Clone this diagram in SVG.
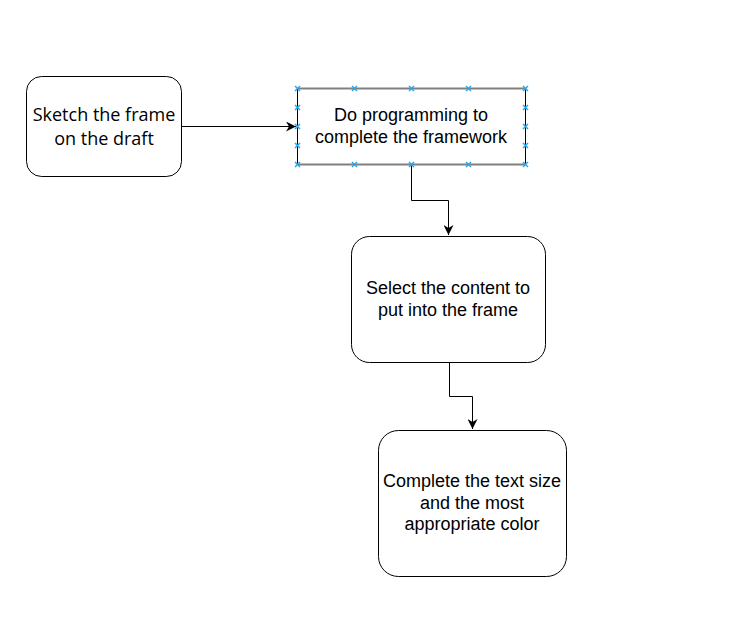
<svg xmlns="http://www.w3.org/2000/svg" width="740" height="625" viewBox="0 0 740 625">
<style>
.box{fill:#fff;stroke:#000;stroke-width:1}
.t{font-family:"Liberation Sans",Arial,sans-serif;font-size:18px;fill:#000;text-anchor:middle}
.t1{font-family:"Open Sans","Noto Sans",sans-serif;font-size:18px;fill:#000;text-anchor:middle}
.c{fill:none;stroke:#000;stroke-width:1}
.h{stroke:#29a8e8;stroke-width:1.5;fill:none}
</style>
<defs>
<marker id="a" viewBox="0 0 10 10" refX="10" refY="5" markerWidth="10" markerHeight="10" markerUnits="userSpaceOnUse" orient="auto"><path d="M0,0 L10,5 L0,10 L3,5 Z" fill="#000"/></marker>
<g id="x"><path d="M-2.5,-2.5 L2.5,2.5 M-2.5,2.5 L2.5,-2.5" class="h"/></g>
</defs>
<rect width="740" height="625" fill="#fff"/>
<g id="connectors">
<path class="c" d="M181,126.5 H296" marker-end="url(#a)"/>
<path class="c" d="M411.5,165 V200.5 H448.5 V235" marker-end="url(#a)"/>
<path class="c" d="M449.5,362 V396.5 H472.5 V429" marker-end="url(#a)"/>
</g>
<g id="n1">
<rect class="box" x="26.5" y="76.5" width="155" height="100" rx="15"/>
<text class="t1" x="104" y="121">Sketch the frame</text>
<text class="t1" x="104" y="144.5">on the draft</text>
</g>
<g id="n2">
<rect x="297.5" y="88.5" width="228" height="76" fill="#fff" stroke="none"/>
<path d="M297.5,88.5 V164.5 M525.5,88.5 V164.5" stroke="#000"/>
<path d="M297.5,88.5 H525.5 M297.5,164.5 H525.5" stroke="#808080" stroke-width="2"/>
<text class="t" x="411" y="121">Do programming to</text>
<text class="t" x="411" y="143">complete the framework</text>
<use href="#x" x="297.5" y="88.5"/><use href="#x" x="354.5" y="88.5"/><use href="#x" x="411.5" y="88.5"/><use href="#x" x="468.5" y="88.5"/><use href="#x" x="525.5" y="88.5"/>
<use href="#x" x="297.5" y="164.5"/><use href="#x" x="354.5" y="164.5"/><use href="#x" x="411.5" y="164.5"/><use href="#x" x="468.5" y="164.5"/><use href="#x" x="525.5" y="164.5"/>
<use href="#x" x="297.5" y="107.5"/><use href="#x" x="297.5" y="126.5"/><use href="#x" x="297.5" y="145.5"/>
<use href="#x" x="525.5" y="107.5"/><use href="#x" x="525.5" y="126.5"/><use href="#x" x="525.5" y="145.5"/>
</g>
<g id="n3">
<rect class="box" x="351.5" y="236.5" width="194" height="126" rx="18"/>
<text class="t" x="448" y="294">Select the content to</text>
<text class="t" x="448" y="316">put into the frame</text>
</g>
<g id="n4">
<rect class="box" x="378.5" y="430.5" width="188" height="146" rx="20"/>
<text class="t" x="472" y="487">Complete the text size</text>
<text class="t" x="472" y="509">and the most</text>
<text class="t" x="472" y="530">appropriate color</text>
</g>
</svg>
